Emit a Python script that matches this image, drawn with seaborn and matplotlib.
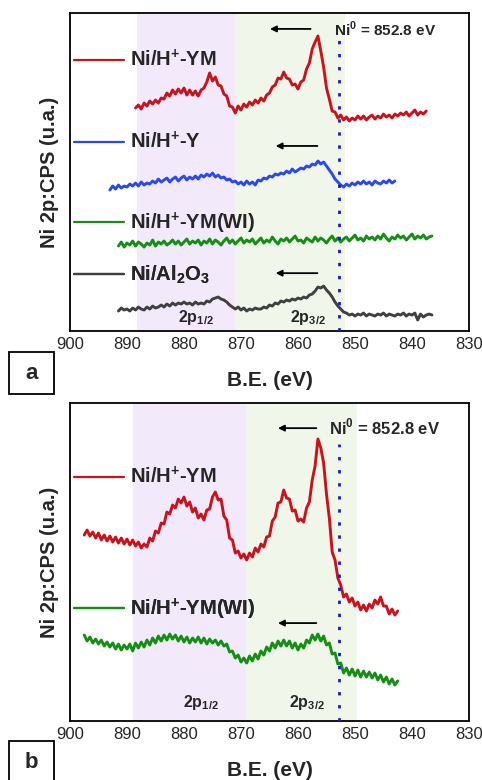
import numpy as np
import matplotlib
matplotlib.use("Agg")
import matplotlib.pyplot as plt
import seaborn as sns
from matplotlib.lines import Line2D
from matplotlib.patches import Rectangle
from matplotlib.ticker import MultipleLocator

# ---- panel a spectra (binding energy grid, intensity in a.u.) ----
red_a = [223,226,222,228,225,230,227,231,228,233,
         232,238,235,241,237,242,238,243,236,241,
         236,240,235,241,243,249,258,250,254,246,
         245,237,235,225,224,218,225,221,227,224,
         229,226,231,228,233,230,236,238,244,246,
         253,252,259,253,252,246,247,242,249,251,
         262,268,282,289,295,280,264,243,232,220,
         219,213,216,211,214,210,213,211,215,212,
         215,211,214,216,212,215,213,217,214,216,
         213,217,215,218,216,219,215,218,221,216,
         219,217,220]
blue_a = [141,145,142,146,143,145,144,147,145,148,
          145,149,146,148,147,150,148,152,149,151,
          153,149,152,154,150,153,155,151,154,152,
          155,152,156,154,157,155,158,154,156,153,
          154,151,152,149,150,147,149,146,150,147,
          149,146,151,150,153,152,155,154,157,156,
          158,157,160,158,162,159,161,163,162,165,
          164,167,166,170,167,169,165,161,157,152,
          149,146,144,147,145,148,146,149,147,150,
          147,149,146,150,148,147,150,148,151,148,
          150]
green_a = [85,89,84,88,86,90,85,89,87,84,
           88,86,91,85,89,87,90,86,88,91,
           87,90,86,89,92,87,90,88,91,86,
           90,88,92,87,91,89,86,90,93,88,
           91,87,90,93,88,91,89,92,87,90,
           93,88,91,89,94,90,87,92,90,93,
           89,92,95,90,91,88,93,91,89,94,
           90,93,91,88,92,95,90,93,89,92,
           94,90,93,96,91,93,90,95,92,94,
           91,95,92,97,93,90,94,92,96,93,
           95,91,94,97,92,95,93,96,92,94,
           95]
gray_a = [20,23,21,22,20,23,21,24,22,21,
          24,22,25,23,24,26,24,27,25,28,
          26,28,27,29,27,28,26,29,27,28,
          27,30,29,32,33,34,32,31,29,26,
          24,22,24,21,23,20,22,21,23,22,
          22,24,23,26,25,28,27,30,29,31,
          30,32,31,33,32,34,33,36,37,40,
          44,43,45,41,38,34,29,25,22,19,
          18,16,17,15,17,16,18,15,17,16,
          15,17,16,18,15,17,16,15,17,16,
          18,15,17,16,18,11,17,14,16,17,
          16]

# ---- panel b spectra ----
red_b = [186,191,185,189,183,188,181,186,180,185,
         179,184,178,183,177,182,176,181,175,179,
         173,177,174,183,180,190,188,198,197,209,
         207,216,213,222,218,224,215,219,209,213,
         203,207,201,211,212,224,229,221,222,205,
         201,183,181,168,170,163,167,161,168,164,
         173,169,177,174,184,185,200,204,218,219,
         231,223,222,210,211,200,202,199,213,219,
         241,255,282,273,258,227,203,169,161,143,
         136,124,127,119,123,115,119,111,116,110,
         117,113,121,117,124,115,115,107,112,106,
         110]
green_b = [86,80,84,78,82,77,81,75,79,74,
           78,72,77,71,76,72,77,70,78,73,
           79,74,81,76,83,78,85,80,86,81,
           87,82,86,80,85,79,84,78,83,79,
           84,78,83,77,82,78,81,76,80,75,
           77,69,70,63,66,59,63,58,65,60,
           67,62,70,66,74,70,78,73,80,75,
           81,75,80,73,78,71,77,73,81,78,
           86,81,87,80,85,76,78,67,68,57,
           58,48,53,46,52,45,51,44,50,44,
           49,43,48,41,46,39,44,37,42,36,
           40]

be_red_a = np.linspace(888.5, 837.5, len(red_a))
be_blue_a = np.linspace(893.0, 843.0, len(blue_a))
be_green_a = np.linspace(891.5, 836.5, len(green_a))
be_gray_a = np.linspace(891.5, 836.5, len(gray_a))
be_red_b = np.linspace(897.5, 842.5, len(red_b))
be_green_b = np.linspace(897.5, 842.5, len(green_b))

labels = {"ym": "Ni/H$^{\\mathbf{+}}$-YM", "y": "Ni/H$^{\\mathbf{+}}$-Y",
          "wi": "Ni/H$^{\\mathbf{+}}$-YM(WI)", "al": "Ni/Al$_{\\mathbf{2}}$O$_{\\mathbf{3}}$"}
colors = {"ym": "#cc101c", "y": "#2b48f2", "wi": "#138f13", "al": "#404040"}

ni0 = 852.8

sns.set_style("white")
plt.rcParams["font.family"] = ["Liberation Sans", "DejaVu Sans"]
plt.rcParams["mathtext.fontset"] = "custom"
plt.rcParams["mathtext.rm"] = "Liberation Sans"
plt.rcParams["mathtext.bf"] = "Liberation Sans:bold"

fig = plt.figure(figsize=(4.82, 7.8), dpi=100)
ax_a = fig.add_axes([0.1452, 0.5756, 0.8278, 0.4077])
ax_b = fig.add_axes([0.1452, 0.0756, 0.8278, 0.4077])


def key(ax, name, y):
    h = Line2D([], [], color=colors[name], lw=1.6)
    leg = ax.legend([h], [labels[name]], loc="center left", bbox_to_anchor=(0.01, y),
                    frameon=False, handlelength=2.5, handletextpad=0.3,
                    borderaxespad=0, borderpad=0,
                    prop=dict(weight="bold", size=14.5))
    ax.add_artist(leg)


def arrow(ax, x0, x1, y):
    ax.annotate("", xy=(x1, y), xytext=(x0, y), xycoords=("data", "axes fraction"),
                arrowprops=dict(arrowstyle="-|>", color="black", lw=1.3, mutation_scale=9))


def frame(ax, purple, green, dot_top):
    ax.axvspan(*purple, color="#f2eafb", lw=0, zorder=0)
    ax.axvspan(*green, color="#f1f6eb", lw=0, zorder=0)
    ax.axvline(ni0, ymax=dot_top, color="#1a1acc", lw=2, ls=(0, (1.2, 3.5)), zorder=3)
    ax.set_xlim(900, 830)
    ax.set_ylim(0, 318)
    ax.set_yticks([])
    ax.xaxis.set_major_locator(MultipleLocator(10))
    ax.xaxis.set_minor_locator(MultipleLocator(5))
    ax.tick_params(axis="x", which="major", direction="inout", length=8, width=1.2,
                   labelsize=12, pad=0)
    ax.tick_params(axis="x", which="minor", direction="in", length=3.5, width=1.2)
    for s in ax.spines.values():
        s.set_color("black")
        s.set_linewidth(1.3)
    ax.set_xlabel("B.E. (eV)", fontsize=15, fontweight="bold", labelpad=14)
    ax.set_ylabel("Ni 2p:CPS (u.a.)", fontsize=14.5, fontweight="bold", labelpad=8)


# panel a
frame(ax_a, (888.3, 871.1), (871.1, 851.8), 0.925)
for be, vals, name in [(be_red_a, red_a, "ym"), (be_blue_a, blue_a, "y"),
                       (be_green_a, green_a, "wi"), (be_gray_a, gray_a, "al")]:
    sns.lineplot(x=be, y=vals, ax=ax_a, color=colors[name], lw=2.1,
                 estimator=None, sort=False, legend=False)
key(ax_a, "ym", 0.852)
key(ax_a, "y", 0.594)
key(ax_a, "wi", 0.340)
key(ax_a, "al", 0.176)
arrow(ax_a, 857.3, 865.4, 0.950)
arrow(ax_a, 856.1, 864.4, 0.582)
arrow(ax_a, 856.1, 864.4, 0.182)
ax_a.text(853.6, 0.950, "Ni$^{\\mathbf{0}}$ = 852.8 eV", transform=ax_a.get_xaxis_transform(),
          fontsize=11, fontweight="bold", va="center", ha="left")
ax_a.text(877.9, 0.044, "2p$_{\\mathbf{1/2}}$", transform=ax_a.get_xaxis_transform(),
          fontsize=11.5, fontweight="bold", va="center", ha="center")
ax_a.text(858.2, 0.044, "2p$_{\\mathbf{3/2}}$", transform=ax_a.get_xaxis_transform(),
          fontsize=11.5, fontweight="bold", va="center", ha="center")

# panel b
frame(ax_b, (889.0, 869.2), (869.2, 849.7), 0.87)
for be, vals, name in [(be_red_b, red_b, "ym"), (be_green_b, green_b, "wi")]:
    sns.lineplot(x=be, y=vals, ax=ax_b, color=colors[name], lw=2.1,
                 estimator=None, sort=False, legend=False)
key(ax_b, "ym", 0.767)
key(ax_b, "wi", 0.352)
arrow(ax_b, 856.3, 864.0, 0.921)
arrow(ax_b, 856.3, 864.0, 0.308)
ax_b.text(854.5, 0.925, "Ni$^{\\mathbf{0}}$ = 852.8 eV", transform=ax_b.get_xaxis_transform(),
          fontsize=12, fontweight="bold", va="center", ha="left")
ax_b.text(877.0, 0.057, "2p$_{\\mathbf{1/2}}$", transform=ax_b.get_xaxis_transform(),
          fontsize=11.5, fontweight="bold", va="center", ha="center")
ax_b.text(858.4, 0.057, "2p$_{\\mathbf{3/2}}$", transform=ax_b.get_xaxis_transform(),
          fontsize=11.5, fontweight="bold", va="center", ha="center")

# panel letters in boxes
for letter, y0, h, ty in [("a", 1 - 394 / 780, 42 / 780, 1 - 373 / 780),
                          ("b", 1 - 784 / 780, 43 / 780, 1 - 763 / 780)]:
    fig.patches.append(Rectangle((9 / 482, y0), 45 / 482, h, transform=fig.transFigure,
                                 fill=False, edgecolor="black", lw=1.3))
    fig.text(31.5 / 482, ty, letter, fontsize=16, fontweight="bold", ha="center", va="center")

fig.savefig("out.png", dpi=100)
